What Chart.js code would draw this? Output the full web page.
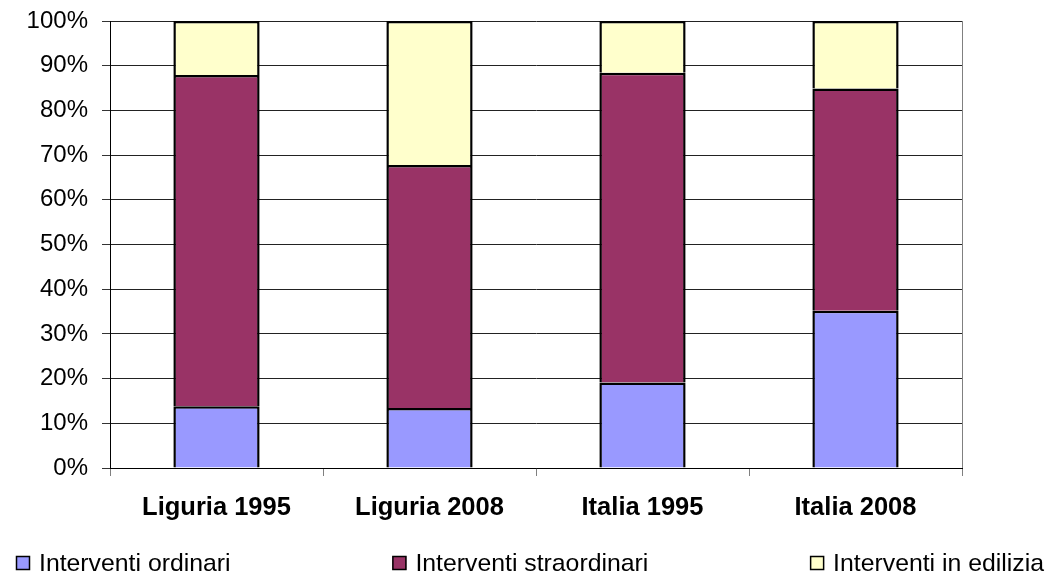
<!DOCTYPE html>
<html>
<head>
<meta charset="utf-8">
<style>
  html, body { margin: 0; padding: 0; background: #ffffff; }
  #wrap { width: 1048px; height: 576px; position: relative; }
</style>
<script src="https://cdn.jsdelivr.net/npm/chart.js@4.4.1/dist/chart.umd.min.js"></script>
</head>
<body>
<div id="wrap"><canvas id="c" width="1048" height="576"></canvas></div>
<script>
const categories = ['Liguria 1995', 'Liguria 2008', 'Italia 1995', 'Italia 2008'];
const seriesNames = ['Interventi ordinari', 'Interventi straordinari', 'Interventi in edilizia'];
const ordinari = [13.8, 13.4, 19.1, 35.2];
const straordinari = [74.1, 54.4, 69.3, 49.7];
const edilizia = [12.1, 32.2, 11.6, 15.1];
const yTicks = [0, 10, 20, 30, 40, 50, 60, 70, 80, 90, 100];

const colors = ['#9999FF', '#993366', '#FFFFCC'];
const FONT = "'Liberation Sans', Arial, Helvetica, sans-serif";

const frame = {
  id: 'frame',
  afterDraw(chart) {
    const a = chart.chartArea, ctx = chart.ctx;
    ctx.save();
    ctx.strokeStyle = '#808080';
    ctx.lineWidth = 1;
    ctx.beginPath();
    ctx.moveTo(Math.round(a.right) + 0.5, a.top);
    ctx.lineTo(Math.round(a.right) + 0.5, a.bottom);
    ctx.stroke();
    ctx.restore();
  }
};

const customLegend = {
  id: 'customLegend',
  afterDraw(chart) {
    const ctx = chart.ctx;
    const ds = chart.data.datasets;
    const left = 16, right = 1044, yMid = 563, box = 14, gap = 9;
    ctx.save();
    ctx.font = '24.8px ' + FONT;
    const widths = ds.map(d => box + gap + ctx.measureText(d.label).width);
    const total = widths.reduce((s, w) => s + w, 0);
    const spacing = (right - left - total) / (ds.length - 1);
    let x = left;
    ds.forEach((d, i) => {
      ctx.fillStyle = d.backgroundColor;
      ctx.fillRect(x, yMid - box / 2, box, box);
      ctx.strokeStyle = '#000';
      ctx.lineWidth = 1.5;
      ctx.strokeRect(x + 0.5, yMid - box / 2 + 0.5, box - 1, box - 1);
      ctx.fillStyle = '#000';
      ctx.textBaseline = 'middle';
      ctx.textAlign = 'left';
      ctx.fillText(d.label, x + box + gap, yMid + 1);
      x += widths[i] + spacing;
    });
    ctx.restore();
  }
};

const seriesData = [ordinari, straordinari, edilizia];

new Chart(document.getElementById('c'), {
  type: 'bar',
  data: {
    labels: categories,
    datasets: seriesNames.map((name, i) => ({
      label: name,
      data: seriesData[i],
      backgroundColor: colors[i],
      borderColor: '#000',
      borderWidth: 2.5,
      borderSkipped: 'start',
      barPercentage: 0.405,
      categoryPercentage: 1
    }))
  },
  options: {
    responsive: false,
    animation: false,
    layout: { padding: { left: 0, right: 86, top: 21, bottom: 48 } },
    plugins: {
      legend: { display: false },
      tooltip: { enabled: false },
      title: { display: false }
    },
    scales: {
      x: {
        stacked: true,
        offset: true,
        grid: {
          offset: true,
          drawOnChartArea: false,
          drawTicks: true,
          tickLength: 8,
          tickColor: '#808080'
        },
        border: { display: true, color: '#000', width: 1 },
        ticks: {
          color: '#000',
          padding: 17,
          font: { family: FONT, size: 25.5, weight: 'bold' },
          maxRotation: 0
        },
        afterFit(scale) { scale.height = 60; scale.paddingLeft = 0; scale.paddingRight = 0; }
      },
      y: {
        stacked: true,
        min: 0,
        max: 100,
        afterBuildTicks(scale) { scale.ticks = yTicks.map(v => ({ value: v })); },
        grid: {
          color: '#222',
          lineWidth: 1,
          drawTicks: true,
          tickLength: 8,
          tickColor: '#333'
        },
        border: { display: true, color: '#000', width: 1 },
        ticks: {
          color: '#000',
          padding: 14,
          font: { family: FONT, size: 24 },
          callback: v => v + '%'
        },
        afterFit(scale) { scale.width = 110; scale.paddingTop = 0; scale.paddingBottom = 0; }
      }
    }
  },
  plugins: [frame, customLegend]
});
</script>
</body>
</html>
